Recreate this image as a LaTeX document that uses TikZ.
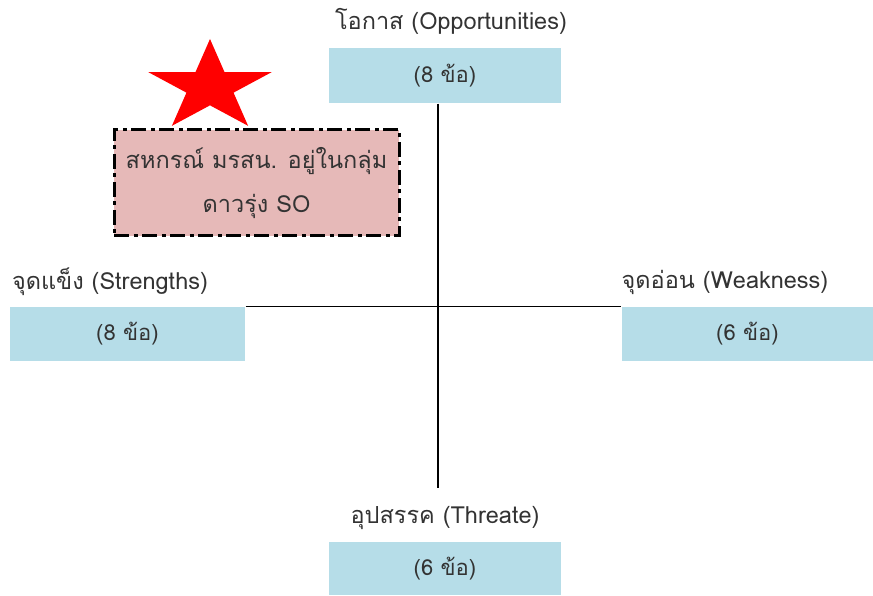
\documentclass[tikz,border=0pt]{standalone}
\usepackage{fontspec}
\setmainfont[Script=Thai]{Loma}
\usetikzlibrary{shapes.geometric,positioning}
\definecolor{boxblue}{HTML}{B6DDE8}
\definecolor{boxpink}{HTML}{E6B9B8}
\definecolor{txtgray}{HTML}{333333}

\begin{document}
\begin{tikzpicture}
[x=1pt, y=1pt, font=\fontsize{23.5}{28}\selectfont, line width=1.2pt,
swot/.style={rectangle, fill=boxblue, inner sep=0pt, text=txtgray,
  font=\fontsize{22}{26}\selectfont},
title/.style={inner sep=0pt, text=txtgray},
note/.style={rectangle, draw=black, fill=boxpink, line width=3pt,
  dash pattern=on 15pt off 4.5pt on 4pt off 4.5pt, inner sep=0pt,
  minimum width=285pt, minimum height=106pt, align=center, text=txtgray}]

\useasboundingbox (0,0) rectangle (873,595);

% the four boxes
\node[swot, minimum width=232pt, minimum height=55pt] (opp) at (445,519.5) {(8 ข้อ)};
\node[swot, minimum width=235pt, minimum height=54pt] (str) at (127.5,261) {(8 ข้อ)};
\node[swot, minimum width=251pt, minimum height=54pt] (wea) at (747.5,261) {(6 ข้อ)};
\node[swot, minimum width=232pt, minimum height=53pt] (thr) at (445,26.5) {(6 ข้อ)};

% titles
\node[title] (oppt) at (451,574) {โอกาส (Opportunities)};
\node[title] (strt) at (110,313) {จุดแข็ง (Strengths)};
\node[title] (weat) at (725,313) {จุดอ่อน (Weakness)};
\node[title] (thrt) at (445,77) {อุปสรรค (Threate)};

% axes
\coordinate (vend) at (438,107);
\draw (vend |- opp.south) -- (vend);
\draw (str.north east) -- (wea.north west);

% note and star
\node[note] (so) at (256.5,412) {สหกรณ์ มรสน. อยู่ในกลุ่ม\\[16pt] ดาวรุ่ง SO};
\node[star, star points=5, star point ratio=2.618, fill=red, inner sep=0pt,
  minimum size=96pt, xscale=1.35, transform shape] (mark) at (210,508) {};

\end{tikzpicture}
\end{document}
